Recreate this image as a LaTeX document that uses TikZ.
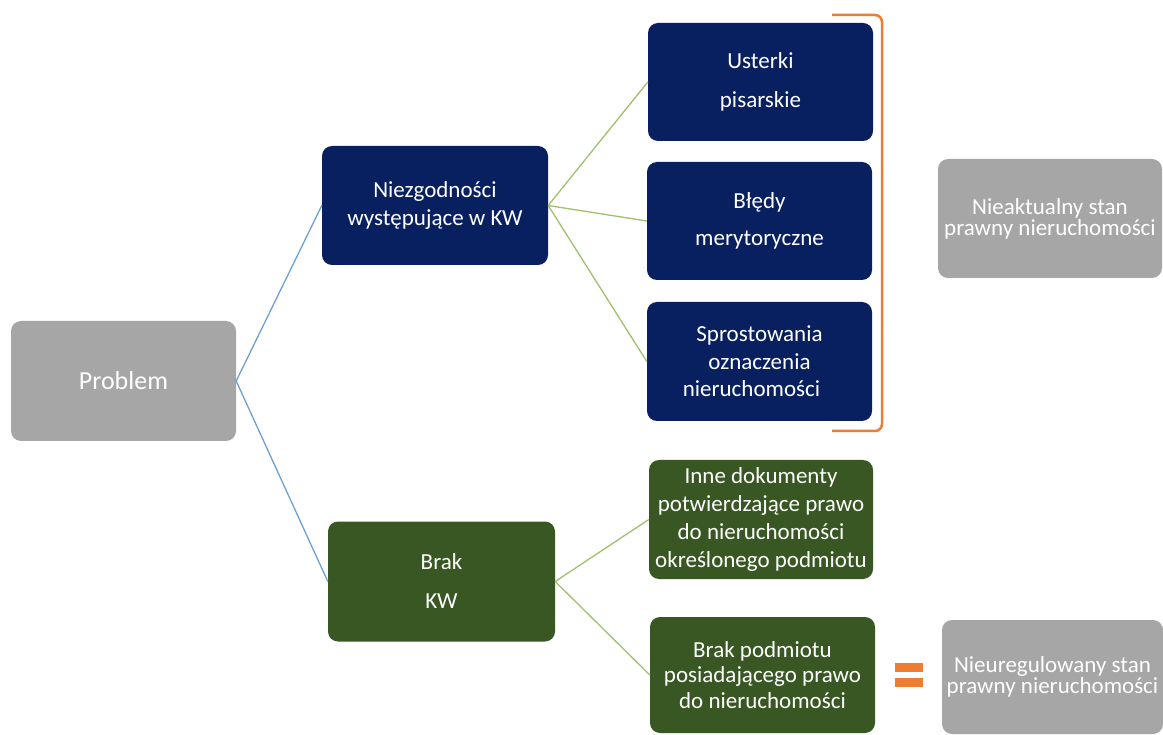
\documentclass[tikz,border=0pt]{standalone}
\usepackage{fontspec}
\setmainfont{Carlito}
\definecolor{navy}{RGB}{9,32,96}
\definecolor{dgreen}{RGB}{56,87,35}
\definecolor{lgray}{RGB}{166,166,166}
\definecolor{bline}{RGB}{110,160,212}
\definecolor{gline}{RGB}{160,192,110}
\definecolor{orng}{RGB}{237,125,49}
\begin{document}
\begin{tikzpicture}[x=1pt,y=-1pt,
  boxbase/.style={rounded corners=10pt, minimum width=225pt, minimum height=119pt,
    text=white, align=center, inner sep=0pt, font=\fontsize{23}{28}\selectfont},
  navybox/.style={boxbase, fill=navy},
  greenbox/.style={boxbase, fill=dgreen},
  graybox/.style={boxbase, fill=lgray},
  blink/.style={draw=bline, line width=1.3pt},
  glink/.style={draw=gline, line width=1.3pt},
  orangeline/.style={draw=orng, line width=2.5pt}]
\useasboundingbox (0,0) rectangle (1163,735);
\fill[white] (0,0) rectangle (1163,735);

\node[graybox, minimum height=120pt, font=\fontsize{26}{30}\selectfont] (prob) at (123.5,381) {Problem};

\node[navybox, minimum width=226pt] (niez) at (435,205.5) {Niezgodności\\występujące w KW};
\node[greenbox, minimum width=227pt, minimum height=120pt, font=\fontsize{23}{39}\selectfont] (brak) at (441.5,581.5) {Brak\\KW};

\node[navybox, minimum height=118pt, font=\fontsize{23}{39}\selectfont] (ust) at (760.5,82) {Usterki\\pisarskie};
\node[navybox, minimum height=118pt, font=\fontsize{23}{37}\selectfont] (bled) at (759.5,221) {Błędy\\merytoryczne};
\node[navybox, font=\fontsize{23}{27.5}\selectfont] (spro) at (759.5,361.5) {Sprostowania\\oznaczenia\\nieruchomości\hspace*{16pt}};

\node[greenbox, minimum width=224pt] (inne) at (761,519.5) {Inne dokumenty\\potwierdzające prawo\\do nieruchomości\\określonego podmiotu};
\node[greenbox, minimum height=116pt, font=\fontsize{23}{25.5}\selectfont] (bpod) at (762.5,675) {Brak podmiotu\\posiadającego prawo\\do nieruchomości};

\node[graybox, minimum width=224pt, font=\fontsize{23}{21}\selectfont] (niea) at (1050,218.5) {Nieaktualny stan\\prawny nieruchomości};
\node[graybox, minimum width=221pt, minimum height=114pt, font=\fontsize{23}{21}\selectfont] (nieu) at (1052.5,677) {Nieuregulowany stan\\prawny nieruchomości};

\draw[blink] (prob.east) -- (niez.west);
\draw[blink] (prob.east) -- (brak.west);
\draw[glink] (niez.east) -- (ust.west);
\draw[glink] (niez.east) -- (bled.west);
\draw[glink] (niez.east) -- (spro.west);
\draw[glink] (brak.east) -- (inne.west);
\draw[glink] (brak.east) -- (bpod.west);

% bracket
\coordinate (brA) at (832,15);
\coordinate (brB) at (882,15);
\coordinate (brC) at (882,431);
\coordinate (brD) at (832,431);
\draw[orangeline, rounded corners=7pt] (brA) -- (brB) -- (brC) -- (brD);

% equals sign
\fill[orng] (895,663) rectangle (923,672);
\fill[orng] (895,678) rectangle (923,687);
\end{tikzpicture}
\end{document}
